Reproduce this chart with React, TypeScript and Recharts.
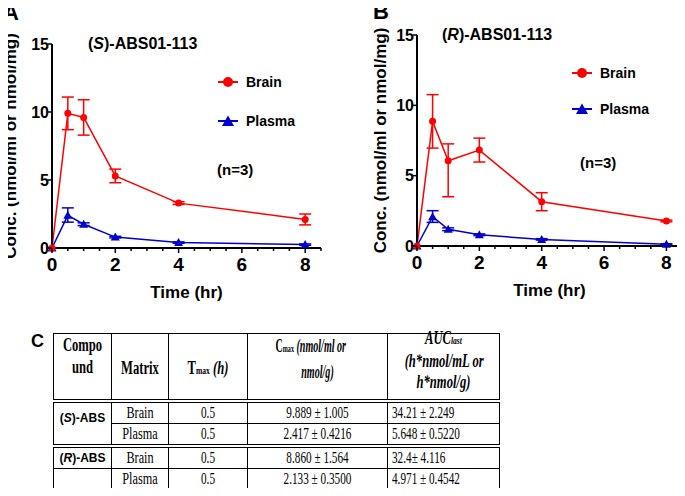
import React from "react";
import { ErrorBar, Legend, Line, LineChart, XAxis, YAxis } from "recharts";

// sampling times (hr)
const times = [0, 0.5, 1, 2, 4, 8];

// (S)-ABS01-113, mean and [down, up] error
const sBrain = [0, 9.9, 9.6, 5.3, 3.3, 2.1];
const sBrainErr = [[0, 0], [1.2, 1.2], [1.3, 1.3], [0.5, 0.5], [0.1, 0.1], [0.4, 0.4]];
const sPlasma = [0, 2.4, 1.75, 0.8, 0.4, 0.25];
const sPlasmaErr = [[0, 0], [0.5, 0.55], [0.1, 0.1], [0.06, 0.06], [0.05, 0.05], [0.05, 0.05]];

// (R)-ABS01-113
const rBrain = [0, 8.86, 6.06, 6.82, 3.15, 1.78];
const rBrainErr = [[0, 0], [1.9, 1.9], [2.56, 1.2], [0.85, 0.85], [0.64, 0.64], [0.06, 0.06]];
const rPlasma = [0, 2.08, 1.19, 0.8, 0.47, 0.12];
const rPlasmaErr = [[0, 0], [0.4, 0.43], [0.1, 0.1], [0.06, 0.06], [0.05, 0.05], [0.04, 0.04]];

const xTicks = [0, 0.5, 1, 1.5, 2, 2.5, 3, 3.5, 4, 4.5, 5, 5.5, 6, 6.5, 7, 7.5, 8, 8.5];
const xLabels = [0, 2, 4, 6, 8];
const yTicks = [0, 5, 10, 15];

// table C
const compounds = ["(S)-ABS", "", "(R)-ABS", ""];
const matrices = ["Brain", "Plasma", "Brain", "Plasma"];
const tmaxValues = ["0.5", "0.5", "0.5", "0.5"];
const cmaxValues = ["9.889 ± 1.005", "2.417 ± 0.4216", "8.860 ± 1.564", "2.133 ± 0.3500"];
const aucValues = ["34.21 ± 2.249", "5.648 ± 0.5220", "32.4± 4.116", "4.971 ± 0.4542"];

const RED = "#ff0000";
const BLUE = "#0000cc";
const SANS = '"Liberation Sans", Arial, sans-serif';
const SERIF = '"Liberation Serif", "Times New Roman", serif';

const makeRows = (brain: number[], brainErr: number[][], plasma: number[], plasmaErr: number[][]) =>
  times.map((t, i) => ({
    t,
    brain: brain[i],
    brainErr: brainErr[i],
    plasma: plasma[i],
    plasmaErr: plasmaErr[i],
  }));

const XTick = ({ x, y, payload }: any) => {
  const major = xLabels.includes(payload.value);
  return (
    <g>
      <line x1={x} x2={x} y1={y} y2={y + (major ? 5 : 3)} stroke="#000" strokeWidth={1.5} />
      {major && (
        <text x={x} y={y + 23} textAnchor="middle" fontSize={19} fontWeight={700} fill="#000">
          {payload.value}
        </text>
      )}
    </g>
  );
};

const YTick = ({ x, y, payload }: any) => (
  <g>
    <line x1={x - 4} x2={x} y1={y} y2={y} stroke="#000" strokeWidth={1.5} />
    <text x={x - 3} y={y} dy="0.36em" textAnchor="end" fontSize={16} fontWeight={700} fill="#000">
      {payload.value}
    </text>
  </g>
);

const BrainDot = ({ cx, cy, index }: any) => <circle key={"b" + index} cx={cx} cy={cy} r={3.5} fill={RED} />;

const PlasmaDot = ({ cx, cy, index }: any) => (
  <path key={"p" + index} d={`M${cx},${cy - 4.5}L${cx + 4.5},${cy + 3.5}L${cx - 4.5},${cy + 3.5}Z`} fill={BLUE} />
);

const makeLegend = (rowH: number) => ({ payload }: any) => {
  const items = [...(payload ?? [])].sort((a: any) => (a.dataKey === "brain" ? -1 : 1));
  return (
    <div>
      {items.map((e: any) => (
        <div key={e.dataKey} style={{ display: "flex", alignItems: "center", height: rowH }}>
          <svg width={22} height={12}>
            <line x1={1} x2={21} y1={6} y2={6} stroke={e.color} strokeWidth={2} />
            {e.dataKey === "brain" ? (
              <circle cx={11} cy={6} r={5} fill={e.color} />
            ) : (
              <path d="M11,0.5L17,11L5,11Z" fill={e.color} />
            )}
          </svg>
          <span style={{ marginLeft: 7, fontSize: 14, fontWeight: 700, color: "#000" }}>{e.value}</span>
        </div>
      ))}
    </div>
  );
};

type PanelProps = {
  data: any[];
  width: number;
  margin: { top: number; right: number; bottom: number; left: number };
  yWidth: number;
  yLabelOffset: number;
  legendPos: { left: number; top: number };
  legendRow: number;
};

function PKPanel({ data, width, margin, yWidth, yLabelOffset, legendPos, legendRow }: PanelProps) {
  return (
    <LineChart width={width} height={310} data={data} margin={margin}>
      <XAxis
        dataKey="t"
        type="number"
        domain={[0, 8.5]}
        ticks={xTicks}
        interval={0}
        tick={<XTick />}
        tickSize={0}
        tickMargin={0}
        tickLine={false}
        axisLine={{ stroke: "#000", strokeWidth: 2 }}
        height={50}
        label={{
          value: "Time (hr)",
          position: "insideBottom",
          offset: 0,
          style: { fontSize: 17, fontWeight: 700, fill: "#000" },
        }}
      />
      <YAxis
        type="number"
        domain={[0, 15]}
        ticks={yTicks}
        interval={0}
        tick={<YTick />}
        tickSize={0}
        tickMargin={0}
        tickLine={false}
        axisLine={{ stroke: "#000", strokeWidth: 2 }}
        width={yWidth}
        label={{
          value: "Conc. (nmol/ml or nmol/mg)",
          angle: -90,
          position: "insideLeft",
          offset: yLabelOffset,
          style: { textAnchor: "middle", fontSize: 17, fontWeight: 700, fill: "#000" },
        }}
      />
      <Legend
        layout="vertical"
        align="center"
        verticalAlign="middle"
        content={makeLegend(legendRow)}
        wrapperStyle={{ left: legendPos.left, top: legendPos.top, width: 120 }}
      />
      <Line
        dataKey="plasma"
        name="Plasma"
        stroke={BLUE}
        strokeWidth={1.5}
        dot={PlasmaDot}
        activeDot={false}
        isAnimationActive={false}
      >
        <ErrorBar dataKey="plasmaErr" width={6} stroke={BLUE} strokeWidth={1.5} direction="y" isAnimationActive={false} />
      </Line>
      <Line
        dataKey="brain"
        name="Brain"
        stroke={RED}
        strokeWidth={1.5}
        dot={BrainDot}
        activeDot={false}
        isAnimationActive={false}
      >
        <ErrorBar dataKey="brainErr" width={6} stroke={RED} strokeWidth={1.5} direction="y" isAnimationActive={false} />
      </Line>
    </LineChart>
  );
}

// table text in the figure is a narrow serif, so squeeze it horizontally
const Squeeze = ({ children, origin = "center", k = 0.66, top = 0 }: any) => (
  <div style={{ position: "relative", top, transform: `scaleX(${k})`, transformOrigin: origin, whiteSpace: "nowrap" }}>
    {children}
  </div>
);

const abs = (left: number, top: number, extra: any = {}) => ({ position: "absolute" as const, left, top, ...extra });

export default function App() {
  const dataS = makeRows(sBrain, sBrainErr, sPlasma, sPlasmaErr);
  const dataR = makeRows(rBrain, rBrainErr, rPlasma, rPlasmaErr);
  const line = "1.5px solid #000";
  const dbl = "4px double #000";
  const rowHeights = [22, 23, 22, 23];
  const td = (extra: any = {}) => ({ border: line, padding: 0, textAlign: "center" as const, ...extra });
  const th = (extra: any = {}) => td({ verticalAlign: "top", ...extra });

  return (
    <div style={{ position: "relative", width: 685, height: 496, margin: -8, background: "#fff", fontFamily: SANS, color: "#000", overflow: "hidden" }}>
      <div style={abs(0, 0)}>
        <PKPanel
          data={dataS}
          width={340}
          margin={{ top: 44, right: 19, bottom: 12, left: 0 }}
          yWidth={52}
          yLabelOffset={10}
          legendPos={{ left: 217, top: 62 }}
          legendRow={39}
        />
      </div>
      <div style={abs(340, 0)}>
        <PKPanel
          data={dataR}
          width={345}
          margin={{ top: 35, right: 3, bottom: 14, left: 0 }}
          yWidth={77}
          yLabelOffset={40}
          legendPos={{ left: 231, top: 55 }}
          legendRow={36}
        />
      </div>

      <div style={abs(3, 3, { fontSize: 22, fontWeight: 700, lineHeight: "20px" })}>A</div>
      <div style={abs(373, 2, { fontSize: 22, fontWeight: 700, lineHeight: "20px" })}>B</div>
      <div style={abs(31, 331, { fontSize: 18, fontWeight: 700, lineHeight: "20px" })}>C</div>

      <div style={abs(88, 35, { fontSize: 16, fontWeight: 700, lineHeight: "18px" })}>
        (<i>S</i>)-ABS01-113
      </div>
      <div style={abs(442, 26, { fontSize: 16, fontWeight: 700, lineHeight: "18px" })}>
        (<i>R</i>)-ABS01-113
      </div>
      <div style={abs(217, 161, { fontSize: 15, fontWeight: 700, lineHeight: "18px" })}>(n=3)</div>
      <div style={abs(580, 154, { fontSize: 15, fontWeight: 700, lineHeight: "18px" })}>(n=3)</div>

      <table
        style={{
          position: "absolute",
          left: 53,
          top: 333,
          width: 446,
          borderCollapse: "collapse",
          tableLayout: "fixed",
          fontFamily: SERIF,
          fontSize: 17,
          border: line,
          borderBottom: dbl,
        }}
      >
        <colgroup>
          <col style={{ width: 58 }} />
          <col style={{ width: 57 }} />
          <col style={{ width: 79 }} />
          <col style={{ width: 140 }} />
          <col style={{ width: 112 }} />
        </colgroup>
        <tbody>
          <tr style={{ height: 62, fontWeight: 700, fontSize: 18, lineHeight: "22px", borderBottom: dbl }}>
            <td style={th()}>
              <Squeeze k={0.7}>Compo<br />und</Squeeze>
            </td>
            <td style={th()}>
              <Squeeze k={0.7} top={23}>Matrix</Squeeze>
            </td>
            <td style={th()}>
              <Squeeze k={0.7} top={23}>
                T<span style={{ fontSize: "0.6em" }}>max</span> <i>(h)</i>
              </Squeeze>
            </td>
            <td style={th({ lineHeight: "24px" })}>
              <Squeeze k={0.56} top={0}>
                <span style={{ position: "relative", left: -12 }}>
                  C<span style={{ fontSize: "0.6em" }}>max</span> <i>(nmol/ml or</i>
                </span>
                <br />
                <i>nmol/g)</i>
              </Squeeze>
            </td>
            <td style={th({ lineHeight: "21px" })}>
              <Squeeze k={0.7} top={-6}>
                <i>
                  AUC<span style={{ fontSize: "0.6em" }}>last</span>
                  <br />
                  (h*nmol/mL or
                  <br />
                  h*nmol/g)
                </i>
              </Squeeze>
            </td>
          </tr>
          {matrices.map((m, i) => (
            <tr key={i} style={{ height: rowHeights[i], lineHeight: "18px", borderTop: i === 2 ? dbl : undefined }}>
              {i === 0 && (
                <td rowSpan={2} style={td({ verticalAlign: "top", paddingTop: 6, fontFamily: SANS, fontSize: 12, fontWeight: 700 })}>
                  (<i>S</i>)-ABS
                </td>
              )}
              {i >= 2 && (
                <td style={td({ fontFamily: SANS, fontSize: 12, fontWeight: 700 })}>
                  {compounds[i] ? (
                    <>
                      (<i>R</i>)-ABS
                    </>
                  ) : null}
                </td>
              )}
              <td style={td()}>
                <Squeeze k={0.72}>{m}</Squeeze>
              </td>
              <td style={td()}>
                <Squeeze>{tmaxValues[i]}</Squeeze>
              </td>
              <td style={td()}>
                <Squeeze>{cmaxValues[i]}</Squeeze>
              </td>
              <td style={td({ textAlign: "left", paddingLeft: 4 })}>
                <Squeeze origin="left">{aucValues[i]}</Squeeze>
              </td>
            </tr>
          ))}
        </tbody>
      </table>
    </div>
  );
}
